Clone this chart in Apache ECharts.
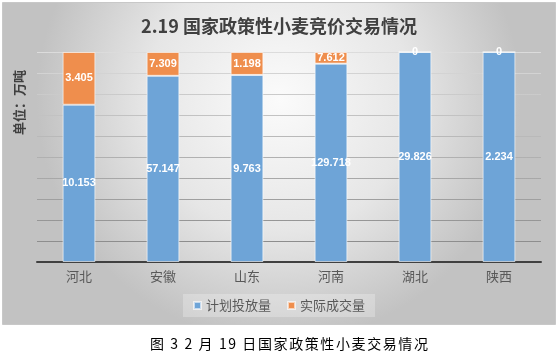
<!DOCTYPE html>
<html><head><meta charset="utf-8">
<script src="https://cdn.jsdelivr.net/npm/echarts@6/dist/echarts.min.js"></script>
<style>
html,body{margin:0;padding:0;background:#fff;}
#c{position:absolute;left:0;top:0;width:558px;height:355px;}
#cap{position:absolute;left:150px;top:333px;white-space:nowrap;font-family:"Noto Sans CJK SC";font-size:14px;letter-spacing:1.6px;color:#000;line-height:20px;}
</style></head>
<body>
<div id="c"></div>
<div id="cap">图 3 2 月 19 日国家政策性小麦交易情况</div>
<script>
var categories = ['河北','安徽','山东','河南','湖北','陕西'];
var planned = [10.153, 57.147, 9.763, 129.718, 29.826, 2.234];
var actual = [3.405, 7.309, 1.198, 7.612, 0, 0];
var seriesNames = ['计划投放量','实际成交量'];
var titleText = '2.19 国家政策性小麦竞价交易情况';
var unitText = '单位：万吨';

function pct(arr){ return arr.map(function(v,i){ var t = planned[i]+actual[i]; return t ? v/t*100 : 0; }); }
var pPct = pct(planned), aPct = pct(actual);

var chart = echarts.init(document.getElementById('c'), null, {renderer:'canvas'});
var labelFont = {show:true, position:'inside', color:'#fff', fontWeight:'bold', fontSize:11, fontFamily:'Liberation Sans'};
chart.setOption({
  animation:false,
  graphic:[
    {type:'rect', z:-10, shape:{x:2.5,y:2.5,width:553,height:322},
     style:{fill:{type:'radial', x:0.5, y:0.3, r:0.75, colorStops:[{offset:0,color:'#fbfbfb'},{offset:0.55,color:'#e6e6e6'},{offset:1,color:'#c2c2c2'}]}, stroke:'#c8c8c8', lineWidth:1}},
    {type:'text', left:13, top:70, rotation:Math.PI/2, z:10,
     style:{text:unitText, fill:'#404040', font:'bold 13px "Noto Sans CJK SC"'}}
  ],
  title:{text:titleText, left:'center', top:12, textStyle:{fontSize:18, fontWeight:'bold', color:'#404040', fontFamily:'"Noto Sans CJK SC"'}},
  legend:{data:seriesNames, bottom:38, left:'center', itemWidth:7, itemHeight:7, itemGap:16, icon:'rect',
    backgroundColor:'rgba(255,255,255,0.25)', padding:[5,10,5,10],
    textStyle:{fontSize:13, color:'#595959', fontFamily:'"Noto Sans CJK SC"'}},
  grid:{left:37, right:17, top:52, bottom:93},
  xAxis:{type:'category', data:categories,
    axisLine:{lineStyle:{color:'#404040', width:2}}, axisTick:{show:false},
    axisLabel:{fontSize:13, color:'#595959', margin:8, fontFamily:'"Noto Sans CJK SC"'}},
  yAxis:{type:'value', min:0, max:100, interval:10, axisLabel:{show:false}, axisLine:{show:false}, axisTick:{show:false},
    splitLine:{lineStyle:{width:1, color:{type:'linear', x:0, y:52, x2:0, y2:262, global:true, colorStops:[{offset:0,color:'#dcdcdc'},{offset:1,color:'#858585'}]}}}},
  series:[
    {name:seriesNames[0], type:'bar', stack:'s', barWidth:'39%', data:pPct,
     itemStyle:{color:'#6EA4D7', borderColor:'rgba(255,255,255,0.6)', borderWidth:1},
     label:Object.assign({}, labelFont, {formatter:function(p){return String(planned[p.dataIndex]);}})},
    {name:seriesNames[1], type:'bar', stack:'s', barWidth:'39%', data:aPct,
     itemStyle:{color:'#EF8E4D', borderColor:'rgba(255,255,255,0.6)', borderWidth:1},
     label:Object.assign({}, labelFont, {formatter:function(p){var v = actual[p.dataIndex]; return v===0?'0':v.toFixed(3);}})}
  ]
});
</script>
</body></html>
